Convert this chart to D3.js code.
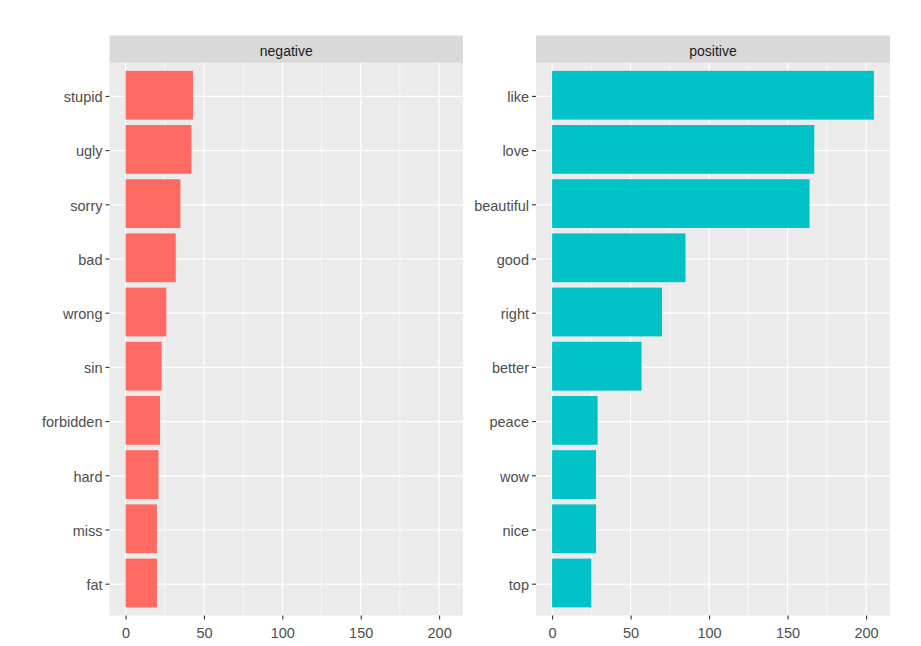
<!DOCTYPE html>
<html>
<head>
<meta charset="utf-8">
<script src="https://cdn.jsdelivr.net/npm/d3@7"></script>
<style>
  body { margin: 0; background: #fff; }
  text { font-family: "Liberation Sans", Arial, sans-serif; }
</style>
</head>
<body>
<div id="chart"></div>
<script>
// word counts per sentiment, top to bottom as drawn
var negWords = ["stupid", "ugly", "sorry", "bad", "wrong", "sin", "forbidden", "hard", "miss", "fat"];
var negCounts = [43, 42, 35, 32, 26, 23, 22, 21, 20, 20];
var posWords = ["like", "love", "beautiful", "good", "right", "better", "peace", "wow", "nice", "top"];
var posCounts = [205, 167, 164, 85, 70, 57, 29, 28, 28, 25];
var xTicks = [0, 50, 100, 150, 200];
var xMinor = [25, 75, 125, 175];

var width = 921, height = 646;
var panelTop = 62.7, panelBottom = 615.5, stripTop = 35.5;
var gridShift = 1.2; // grid and ticks sit a touch below bar centres in the original

var svg = d3.select("#chart").append("svg")
	.attr("width", width)
	.attr("height", height);

var maxCount = d3.max(negCounts.concat(posCounts));
var pad = maxCount * 0.05;

function drawPanel(name, words, counts, x0, x1, colour) {
	var x = d3.scaleLinear()
		.domain([-pad, maxCount + pad])
		.range([x0, x1]);
	var y = d3.scaleBand()
		.domain(words)
		.range([panelTop, panelBottom])
		.paddingInner(0.1)
		.paddingOuter(0.15);

	var g = svg.append("g");

	// panel background
	g.append("rect")
		.attr("x", x0).attr("y", panelTop)
		.attr("width", x1 - x0).attr("height", panelBottom - panelTop)
		.attr("fill", "#EBEBEB");

	// minor grid
	g.selectAll(".minor")
		.data(xMinor).enter()
		.append("line")
		.attr("x1", function(d) { return x(d); })
		.attr("x2", function(d) { return x(d); })
		.attr("y1", panelTop).attr("y2", panelBottom)
		.attr("stroke", "#fff").attr("stroke-width", 0.6);

	// major grid
	g.selectAll(".vmajor")
		.data(xTicks).enter()
		.append("line")
		.attr("x1", function(d) { return x(d); })
		.attr("x2", function(d) { return x(d); })
		.attr("y1", panelTop).attr("y2", panelBottom)
		.attr("stroke", "#fff").attr("stroke-width", 1.2);

	g.selectAll(".hmajor")
		.data(words).enter()
		.append("line")
		.attr("x1", x0).attr("x2", x1)
		.attr("y1", function(d) { return y(d) + y.bandwidth() / 2 + gridShift; })
		.attr("y2", function(d) { return y(d) + y.bandwidth() / 2 + gridShift; })
		.attr("stroke", "#fff").attr("stroke-width", 1.2);

	// bars
	g.selectAll(".bar")
		.data(words).enter()
		.append("rect")
		.attr("x", x(0))
		.attr("y", function(d) { return y(d); })
		.attr("width", function(d, i) { return x(counts[i]) - x(0); })
		.attr("height", y.bandwidth())
		.attr("fill", colour);

	// strip
	g.append("rect")
		.attr("x", x0).attr("y", stripTop)
		.attr("width", x1 - x0).attr("height", panelTop - stripTop)
		.attr("fill", "#D9D9D9");
	g.append("text")
		.attr("x", (x0 + x1) / 2)
		.attr("y", 56)
		.attr("text-anchor", "middle")
		.attr("font-size", "14px")
		.attr("fill", "#1A1A1A")
		.text(name);

	// axes
	var xAxis = g.append("g")
		.attr("transform", "translate(0," + panelBottom + ")")
		.call(d3.axisBottom(x).tickValues(xTicks).tickSize(4).tickPadding(6));
	var yAxis = g.append("g")
		.attr("transform", "translate(" + x0 + "," + gridShift + ")")
		.call(d3.axisLeft(y).tickSize(4).tickPadding(3));

	[xAxis, yAxis].forEach(function(a) {
		a.select(".domain").remove();
		a.selectAll(".tick line").attr("stroke", "#333333").attr("stroke-width", 1.1);
		a.selectAll(".tick text")
			.attr("fill", "#4D4D4D")
			.attr("font-size", "14.5px")
			.attr("font-family", "Liberation Sans, Arial, sans-serif");
	});
	xAxis.selectAll(".tick text").attr("dy", "0.85em");
	yAxis.selectAll(".tick text").attr("dy", "0.4em");
}

drawPanel("negative", negWords, negCounts, 109.5, 463, "#FF6A62");
drawPanel("positive", posWords, posCounts, 536, 890, "#00C2C7");
</script>
</body>
</html>
